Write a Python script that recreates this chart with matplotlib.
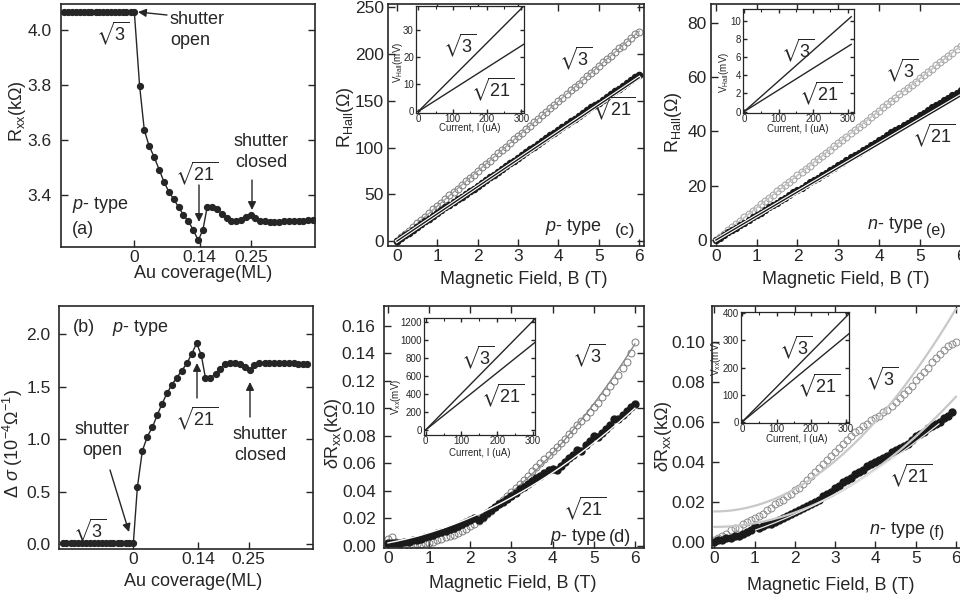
import numpy as np
import matplotlib.pyplot as plt
import matplotlib.transforms as mtransforms
import matplotlib.patheffects as pe

plt.rcParams['font.family'] = ['Liberation Sans', 'DejaVu Sans']
plt.rcParams['mathtext.fontset'] = 'custom'
plt.rcParams['mathtext.rm'] = 'Liberation Sans'
plt.rcParams['mathtext.it'] = 'Liberation Sans:italic'
plt.rcParams['mathtext.bf'] = 'Liberation Sans:bold'
plt.rcParams['mathtext.fallback'] = 'stixsans'

W, H = 960, 605
INK = '#262626'

# ---------------- data ----------------
# (a) Rxx (kOhm) vs Au coverage (ML)
cov_a = [-0.150, -0.142, -0.133, -0.125, -0.117, -0.108, -0.100, -0.092, -0.083, -0.075,
         -0.067, -0.058, -0.050, -0.042, -0.033, -0.025, -0.017, -0.008, 0.000,
         0.0114, 0.0214, 0.0317, 0.0422, 0.0535, 0.0634, 0.0743, 0.0842, 0.095, 0.105,
         0.116, 0.126, 0.137, 0.147, 0.156, 0.166, 0.177, 0.187, 0.198, 0.208,
         0.218, 0.229, 0.240, 0.250, 0.259, 0.269, 0.279, 0.290, 0.300, 0.310,
         0.321, 0.331, 0.341, 0.352, 0.362, 0.372, 0.382]
rxx_a = [4.067, 4.067, 4.067, 4.067, 4.067, 4.067, 4.067, 4.067, 4.067, 4.067,
         4.067, 4.067, 4.067, 4.067, 4.067, 4.067, 4.067, 4.067, 4.067,
         3.796, 3.636, 3.578, 3.539, 3.491, 3.448, 3.410, 3.385, 3.355, 3.327,
         3.303, 3.273, 3.234, 3.273, 3.355, 3.357, 3.348, 3.331, 3.315, 3.305,
         3.303, 3.309, 3.319, 3.327, 3.315, 3.305, 3.303, 3.302, 3.302, 3.302,
         3.303, 3.303, 3.304, 3.305, 3.306, 3.307, 3.308]

# (b) delta sigma (1e-4 / Ohm) vs Au coverage (ML)
cov_b = [-0.153, -0.145, -0.136, -0.128, -0.119, -0.111, -0.102, -0.094, -0.085, -0.077,
         -0.068, -0.060, -0.051, -0.043, -0.034, -0.026, -0.017, -0.009, 0.000,
         0.0087, 0.0195, 0.0303, 0.0412, 0.052, 0.062, 0.073, 0.083, 0.094, 0.105,
         0.116, 0.126, 0.137, 0.147, 0.156, 0.167, 0.178, 0.188, 0.199, 0.210,
         0.220, 0.231, 0.242, 0.252, 0.262, 0.273, 0.284, 0.294, 0.305, 0.315,
         0.326, 0.336, 0.347, 0.356, 0.367, 0.377]
dsig_b = [0.01, 0.01, 0.01, 0.01, 0.01, 0.01, 0.01, 0.01, 0.01, 0.01,
          0.01, 0.01, 0.01, 0.01, 0.01, 0.01, 0.01, 0.01, 0.01,
          0.540, 0.889, 1.025, 1.114, 1.232, 1.337, 1.438, 1.517, 1.587, 1.654,
          1.724, 1.810, 1.914, 1.803, 1.587, 1.587, 1.622, 1.670, 1.717, 1.730,
          1.730, 1.714, 1.692, 1.660, 1.708, 1.724, 1.730, 1.730, 1.730, 1.728,
          1.727, 1.725, 1.722, 1.720, 1.718, 1.715]

# magnetic field (T) shared by (c)-(f)
B = [0.0, 0.1, 0.2, 0.3, 0.4, 0.5, 0.6, 0.7, 0.8, 0.9,
     1.0, 1.1, 1.2, 1.3, 1.4, 1.5, 1.6, 1.7, 1.8, 1.9,
     2.0, 2.1, 2.2, 2.3, 2.4, 2.5, 2.6, 2.7, 2.8, 2.9,
     3.0, 3.1, 3.2, 3.3, 3.4, 3.5, 3.6, 3.7, 3.8, 3.9,
     4.0, 4.1, 4.2, 4.3, 4.4, 4.5, 4.6, 4.7, 4.8, 4.9,
     5.0, 5.1, 5.2, 5.3, 5.4, 5.5, 5.6, 5.7, 5.8, 5.9,
     6.0]

# (c) R_Hall (Ohm), p-type
c_s3 = [0, 4, 7, 11, 15, 19, 22, 26, 30, 34,
        37, 41, 45, 49, 52, 56, 60, 64, 67, 71,
        75, 79, 82, 86, 90, 94, 97, 101, 105, 109,
        112, 116, 120, 123, 127, 131, 135, 138, 142, 146,
        150, 153, 157, 161, 165, 168, 172, 176, 180, 183,
        187, 191, 195, 198, 202, 206, 209, 213, 217, 221,
        224]
c_s21 = [0, 3, 6, 9, 12, 15, 18, 21, 24, 27,
         30, 33, 36, 39, 42, 45, 47, 50, 53, 56,
         59, 62, 65, 68, 71, 74, 77, 80, 83, 86,
         89, 92, 95, 98, 101, 104, 107, 110, 113, 116,
         119, 122, 125, 128, 131, 134, 137, 140, 143, 146,
         148, 151, 154, 157, 160, 163, 166, 169, 172, 175,
         178]

# (d) delta Rxx (kOhm), p-type
d_s3 = [0.005, 0.006, 0.003, 0.001, 0.000, 0.000, 0.000, 0.001, 0.001, 0.002,
        0.002, 0.003, 0.004, 0.005, 0.006, 0.007, 0.008, 0.009, 0.011, 0.012,
        0.014, 0.016, 0.018, 0.020, 0.023, 0.025, 0.028, 0.031, 0.033, 0.036,
        0.039, 0.042, 0.045, 0.048, 0.051, 0.054, 0.057, 0.060, 0.063, 0.066,
        0.069, 0.072, 0.075, 0.078, 0.081, 0.084, 0.088, 0.091, 0.094, 0.097,
        0.101, 0.104, 0.108, 0.112, 0.116, 0.120, 0.124, 0.129, 0.134, 0.140,
        0.148]
d_s21 = [0.002, 0.002, 0.002, 0.002, 0.003, 0.003, 0.004, 0.004, 0.005, 0.006,
         0.007, 0.008, 0.009, 0.010, 0.011, 0.012, 0.013, 0.014, 0.016, 0.017,
         0.019, 0.020, 0.019, 0.021, 0.024, 0.026, 0.028, 0.030, 0.032, 0.034,
         0.036, 0.038, 0.041, 0.043, 0.045, 0.047, 0.049, 0.051, 0.053, 0.055,
         0.056, 0.055, 0.058, 0.061, 0.064, 0.066, 0.070, 0.069, 0.073, 0.076,
         0.080, 0.079, 0.082, 0.085, 0.088, 0.092, 0.092, 0.095, 0.098, 0.101,
         0.103]

# (e) R_Hall (Ohm), n-type
e_s3 = [0, 1.2, 2.4, 3.6, 4.8, 6.0, 7.1, 8.3, 9.5, 10.7,
        11.9, 13.1, 14.3, 15.5, 16.7, 17.9, 19.0, 20.2, 21.4, 22.6,
        23.8, 25.0, 26.2, 27.4, 28.6, 29.8, 30.9, 32.1, 33.3, 34.5,
        35.7, 36.9, 38.1, 39.3, 40.5, 41.7, 42.8, 44.0, 45.2, 46.4,
        47.6, 48.8, 50.0, 51.2, 52.4, 53.6, 54.7, 55.9, 57.1, 58.3,
        59.5, 60.7, 61.9, 63.1, 64.3, 65.5, 66.6, 67.8, 69.0, 70.2,
        71.4]
e_s21 = [0, 0.9, 1.8, 2.8, 3.7, 4.6, 5.5, 6.4, 7.4, 8.3,
         9.2, 10.1, 11.0, 12.0, 12.9, 13.8, 14.7, 15.6, 16.6, 17.5,
         18.4, 19.3, 20.2, 21.2, 22.1, 23.0, 23.9, 24.8, 25.8, 26.7,
         27.6, 28.5, 29.4, 30.4, 31.3, 32.2, 33.1, 34.0, 35.0, 35.9,
         36.8, 37.7, 38.6, 39.6, 40.5, 41.4, 42.3, 43.2, 44.2, 45.1,
         46.0, 46.9, 47.8, 48.8, 49.7, 50.6, 51.5, 52.4, 53.4, 54.3,
         55.2]

# (f) delta Rxx (kOhm), n-type
f_s3 = [0.001, 0.002, 0.003, 0.004, 0.006, 0.007, 0.007, 0.009, 0.010, 0.011,
        0.012, 0.013, 0.014, 0.016, 0.017, 0.019, 0.020, 0.021, 0.023, 0.024,
        0.026, 0.027, 0.029, 0.031, 0.033, 0.035, 0.037, 0.039, 0.041, 0.043,
        0.045, 0.047, 0.049, 0.051, 0.053, 0.055, 0.056, 0.058, 0.059, 0.061,
        0.062, 0.063, 0.065, 0.066, 0.068, 0.070, 0.072, 0.074, 0.076, 0.078,
        0.081, 0.083, 0.085, 0.087, 0.090, 0.092, 0.094, 0.096, 0.098, 0.099,
        0.100]
f_s21 = [0.000, 0.001, 0.001, 0.002, 0.002, 0.003, 0.003, 0.004, 0.005, 0.006,
         0.008, 0.007, 0.008, 0.009, 0.009, 0.010, 0.011, 0.012, 0.013, 0.014,
         0.015, 0.016, 0.017, 0.018, 0.019, 0.020, 0.021, 0.023, 0.024, 0.025,
         0.027, 0.028, 0.030, 0.031, 0.032, 0.034, 0.035, 0.036, 0.038, 0.039,
         0.040, 0.041, 0.042, 0.043, 0.045, 0.046, 0.047, 0.048, 0.049, 0.051,
         0.053, 0.054, 0.055, 0.057, 0.058, 0.059, 0.060, 0.062, 0.063, 0.065]

# fits: Hall slopes (Ohm/T) and quadratic coefficients for dRxx
fit_c = [37.4, 29.1]
fit_e = [11.9, 8.85]
fit_d3 = [0.00383, 0.0015, 0.0]
fit_d21 = [0.00178, 0.00567, 0.002]
fit_f3 = [0.0028, 0.0, 0.0154]
fit_f21 = [0.0018, 0.0, 0.0077]
fit_f21_white = [0.001, 0.005, 0.0]

# insets: V vs current
I_in = [0, 310]
c_in3, c_in21 = [0, 39.2], [0, 25.0]
d_in3, d_in21 = [0, 1259], [0, 992]
e_in3, e_in21 = [0, 10.45], [0, 7.41]
f_in3, f_in21 = [0, 397], [0, 324]

# ---------------- figure ----------------
fig = plt.figure(figsize=(W / 100, H / 100), dpi=100)
PX = mtransforms.Affine2D().scale(1 / W, -1 / H).translate(0, 1) + fig.transFigure


def px_axes(l, t, r, b):
    return fig.add_axes([l / W, 1 - b / H, (r - l) / W, (b - t) / H])


def style(ax, fs=12.5, padx=2.0, pady=4.0, top=True, right=True, length=5, lw=1.2):
    ax.tick_params(direction='in', length=length, width=1, colors=INK, labelsize=fs,
                   top=top, right=right)
    ax.tick_params(axis='x', pad=padx)
    ax.tick_params(axis='y', pad=pady)
    for s in ax.spines.values():
        s.set_linewidth(lw)
        s.set_color(INK)


def labels(ax, xl, xpos, yl, ypos, fs=13):
    ax.set_xlabel(xl, fontsize=fs, color=INK)
    ax.set_ylabel(yl, fontsize=fs, color=INK)
    ax.xaxis.set_label_coords(*xpos, transform=PX)
    ax.yaxis.set_label_coords(*ypos, transform=PX)
    ax.xaxis.label.set_va('center')
    ax.yaxis.label.set_va('center')


def txt(ax, s, x, y, fs=13, ha='center', **kw):
    ax.text(x, y, s, transform=PX, fontsize=fs, ha=ha, va='center', color=INK, **kw)


def arrow(ax, tail, head):
    ax.annotate('', xy=head, xytext=tail, xycoords=PX, textcoords=PX,
                arrowprops=dict(arrowstyle='-|>', color=INK, lw=1.0, mutation_scale=12,
                                shrinkA=0, shrinkB=0))


S3, S21 = r'$\sqrt{3}$', r'$\sqrt{21}$'
cov_ticks = [0, 0.14, 0.25]
cov_labels = ['0', '0.14', '0.25']

# (a)
ax = px_axes(61, 4, 315, 247)
ax.plot(cov_a, rxx_a, '-o', color=INK, lw=1, ms=4.2)
ax.set_xlim(-0.157, 0.387)
ax.set_ylim(3.21, 4.095)
ax.set_xticks(cov_ticks, cov_labels)
ax.set_yticks([3.4, 3.6, 3.8, 4.0])
style(ax, padx=2.5, pady=7, top=False)
labels(ax, 'Au coverage(ML)', (203, 273), r'R$_{\mathrm{xx}}$(k$\Omega$)', (17, 111))
txt(ax, S3, 113, 33)
txt(ax, 'shutter\nopen', 170, 30, ha='left', linespacing=1.3)
arrow(ax, (167, 15), (138, 12))
txt(ax, S21, 197, 173)
arrow(ax, (199, 185), (199, 222))
txt(ax, 'shutter\nclosed', 261, 152, linespacing=1.3)
arrow(ax, (252, 180), (252, 210))
txt(ax, r'$p$- type', 72, 205, ha='left')
txt(ax, '(a)', 72, 230, ha='left')

# (b)
ax = px_axes(59, 306, 313, 549)
ax.plot(cov_b, dsig_b, '-o', color=INK, lw=1, ms=4.2)
ax.set_xlim(-0.161, 0.389)
ax.set_ylim(-0.048, 2.27)
ax.set_xticks(cov_ticks, cov_labels)
ax.set_yticks([0, 0.5, 1.0, 1.5, 2.0])
ax.yaxis.set_major_formatter('{x:.1f}')
style(ax, padx=2.5, pady=6, top=False)
labels(ax, 'Au coverage(ML)', (193, 582),
       r'$\Delta$ $\sigma$ (10$^{\mathrm{-4}}$$\Omega^{\mathrm{-1}}$)', (13, 443))
txt(ax, '(b)', 73, 328, ha='left')
txt(ax, r'$p$- type', 112, 328, ha='left')
txt(ax, 'shutter\nopen', 102, 440, linespacing=1.3)
arrow(ax, (110, 470), (129, 532))
txt(ax, S3, 90, 530)
txt(ax, S21, 197, 418)
arrow(ax, (197, 398), (197, 363))
txt(ax, 'shutter\nclosed', 260, 445, linespacing=1.3)
arrow(ax, (250, 417), (250, 382))

Bf = np.linspace(0, 6, 200)


def field_panel(box, xlim, ylim, yticks, yfmt, pady):
    ax = px_axes(*box)
    ax.set_xlim(*xlim)
    ax.set_ylim(*ylim)
    ax.set_xticks([0, 1, 2, 3, 4, 5, 6])
    ax.set_yticks(yticks)
    if yfmt:
        ax.yaxis.set_major_formatter(yfmt)
    style(ax, padx=2.0, pady=pady)
    return ax


def inset(box, xlim, ylim, yticks, v3, v21, ylab, xlab_pos, ylab_pos, t3, t21):
    ax = px_axes(*box)
    ax.set_facecolor('white')
    ax.plot(I_in, v3, color=INK, lw=1.0)
    ax.plot(I_in, v21, color=INK, lw=1.0)
    ax.set_xlim(*xlim)
    ax.set_ylim(*ylim)
    ax.set_xticks([0, 100, 200, 300])
    ax.set_xticks([50, 150, 250], minor=True)
    ax.set_yticks(yticks)
    style(ax, fs=7, padx=1.0, pady=1.5, length=3, lw=0.9)
    ax.tick_params(which='minor', direction='in', length=1.8, width=0.8, colors=INK,
                   top=True, right=True)
    labels(ax, 'Current, I (uA)', xlab_pos, ylab, ylab_pos, fs=7)
    txt(ax, S3, *t3)
    txt(ax, S21, *t21)
    return ax


white_edge = [pe.Stroke(linewidth=2.6, foreground='white'), pe.Normal()]

# (c)
ax = field_panel((388, 4, 644, 246), (-0.223, 6.12), (-5.3, 253.5),
                 [0, 50, 100, 150, 200, 250], None, 3)
ax.plot(B, c_s3, 'o', mfc='none', mec='#7a7a7a', mew=0.7, ms=5)
ax.plot(Bf, fit_c[0] * Bf, color='#a0a0a0', lw=1.0)
ax.plot(B, c_s21, 'o', color='#1a1a1a', ms=4.5)
ax.plot(Bf, fit_c[1] * Bf, color='#1a1a1a', lw=1.0, path_effects=white_edge)
labels(ax, 'Magnetic Field, B (T)', (524, 280), r'R$_{\mathrm{Hall}}$($\Omega$)', (345, 117))
txt(ax, S3, 576, 58)
txt(ax, S21, 614, 108)
txt(ax, r'$p$- type', 573, 227)
txt(ax, '(c)', 625, 230, fs=12.5)
inset((416, 6, 524, 113), (-7, 308), (-0.6, 38.9), [0, 10, 20, 30], c_in3, c_in21,
      r'V$_{\mathrm{Hall}}$(mV)', (470, 128), (398, 62), (460, 45), (493, 89))

# (d)
ax = field_panel((384, 306, 644, 548), (-0.097, 6.22), (-0.0017, 0.1745),
                 [0, 0.02, 0.04, 0.06, 0.08, 0.10, 0.12, 0.14, 0.16], '{x:.2f}', 6)
ax.plot(B, d_s3, 'o', mfc='none', mec='#7a7a7a', mew=0.7, ms=5)
ax.plot(Bf, np.polyval(fit_d3, Bf), color='#8a8a8a', lw=1.0)
ax.plot(B, d_s21, 'o', color='#1a1a1a', ms=5)
ax.plot(Bf, np.polyval(fit_d21, Bf), color='white', lw=1.0)
labels(ax, 'Magnetic Field, B (T)', (513, 584), r'$\delta$R$_{\mathrm{xx}}$(k$\Omega$)', (333, 433))
txt(ax, S3, 589, 355)
txt(ax, S21, 585, 508)
txt(ax, r'$p$- type', 578, 537)
txt(ax, '(d)', 620, 537)
inset((424, 318, 535, 435), (-4.5, 305), (-56, 1248), [0, 200, 400, 600, 800, 1000, 1200],
      d_in3, d_in21, r'V$_{\mathrm{xx}}$(mV)', (480, 453), (396, 397), (478, 357), (503, 395))

# (e)
ax = field_panel((711, 4, 968, 246), (-0.12, 6.18), (-2.2, 86.9),
                 [0, 20, 40, 60, 80], None, 3)
ax.plot(B, e_s3, 'o', mfc='none', mec='#a0a0a0', mew=0.7, ms=5)
ax.plot(Bf, fit_e[0] * Bf, color='#c4c4c4', lw=1.2)
ax.plot(B, e_s21, 'o', color='#1a1a1a', ms=4.2)
ax.plot(Bf, fit_e[1] * Bf, color='#1a1a1a', lw=1.0, path_effects=white_edge)
labels(ax, 'Magnetic Field, B (T)', (846, 280), r'R$_{\mathrm{Hall}}$($\Omega$)', (673, 122))
txt(ax, S3, 902, 70)
txt(ax, S21, 934, 135)
txt(ax, r'$n$- type', 895, 225)
txt(ax, '(e)', 936, 230, fs=11.5)
inset((743, 9, 854, 113), (-3, 318), (-0.15, 11.3), [0, 2, 4, 6, 8, 10], e_in3, e_in21,
      r'V$_{\mathrm{Hall}}$(mV)', (798, 129), (724, 72), (798, 50), (821, 93))

# (f)
ax = field_panel((712, 306, 968, 548), (-0.06, 6.3), (-0.0028, 0.1177),
                 [0, 0.02, 0.04, 0.06, 0.08, 0.10], '{x:.2f}', 5)
ax.plot(B, f_s3, 'o', mfc='none', mec='#8a8a8a', mew=0.7, ms=5)
ax.plot(Bf, np.polyval(fit_f3, Bf), color='#c8c8c8', lw=1.6)
ax.plot(B[:60], f_s21, 'o', color='#1a1a1a', ms=5)
ax.plot(Bf, np.polyval(fit_f21, Bf), color='#c8c8c8', lw=1.6)
Bw = Bf[(Bf > 1.0) & (Bf < 5.6)]
ax.plot(Bw, np.polyval(fit_f21_white, Bw), color='#e6e6e6', lw=0.9)
labels(ax, 'Magnetic Field, B (T)', (831, 585), r'$\delta$R$_{\mathrm{xx}}$(k$\Omega$)', (663, 436))
txt(ax, S3, 882, 378)
txt(ax, S21, 911, 475)
txt(ax, r'$n$- type', 897, 530)
txt(ax, '(f)', 937, 533, fs=11.5)
inset((741, 312, 849, 423), (-3, 310), (-3.7, 403.7), [0, 100, 200, 300, 400], f_in3, f_in21,
      r'V$_{\mathrm{xx}}$(mV)', (797, 439), (716, 358), (796, 347), (819, 385))

fig.savefig('out.png', dpi=100)
